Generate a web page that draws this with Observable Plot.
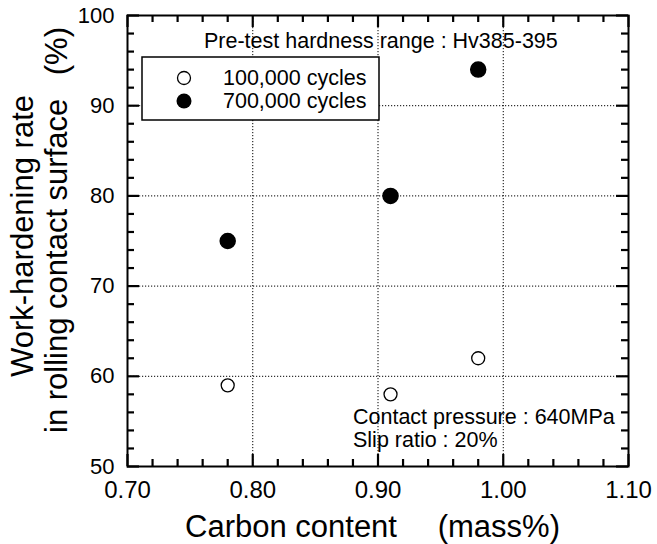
<!DOCTYPE html>
<html>
<head>
<meta charset="utf-8">
<script src="https://cdn.jsdelivr.net/npm/d3@7"></script>
<script src="https://cdn.jsdelivr.net/npm/@observablehq/plot@0.6"></script>
<style>
  html, body { margin: 0; padding: 0; background: white; }
</style>
</head>
<body>
<div id="chart"></div>
<script>
// Data
const carbon = [0.78, 0.91, 0.98];
const rate100k = [59, 58, 62];
const rate700k = [75, 80, 94];
const seriesNames = ["100,000 cycles", "700,000 cycles"];
const xMajor = [0.70, 0.80, 0.90, 1.00, 1.10];
const xTickLabels = ["0.70", "0.80", "0.90", "1.00", "1.10"];
const xMinor = [0.72,0.74,0.76,0.78,0.82,0.84,0.86,0.88,0.92,0.94,0.96,0.98,1.02,1.04,1.06,1.08];
const yMajor = [50, 60, 70, 80, 90, 100];
const yMinor = [52,54,56,58,62,64,66,68,72,74,76,78,82,84,86,88,92,94,96,98];
const xGrid = [0.80, 0.90, 1.00];
const yGrid = [60, 70, 80, 90];
const noteTop = "Pre-test hardness range : Hv385-395";
const noteBottom = ["Contact pressure : 640MPa", "Slip ratio : 20%"];
const xTitle = ["Carbon content", "(mass%)"];
const yTitle = ["Work-hardening rate", "in rolling contact surface", "(%)"];

const open = carbon.map((c, i) => ({c, v: rate100k[i]}));
const filled = carbon.map((c, i) => ({c, v: rate700k[i]}));

const font = "'Liberation Sans', Arial, Helvetica, sans-serif";
const W = 657, H = 544, mL = 127, mR = 29, mT = 15, mB = 78;
const fw = W - mL - mR, fh = H - mT - mB;
const tickStyle = {stroke: "#000", strokeWidth: 2.2};
function xTicks(vals, len) {
  return [
    Plot.ruleX(vals, {...tickStyle, insetTop: fh - len}),
    Plot.ruleX(vals, {...tickStyle, insetBottom: fh - len})
  ];
}
function yTicks(vals, len) {
  return [
    Plot.ruleY(vals, {...tickStyle, insetRight: fw - len}),
    Plot.ruleY(vals, {...tickStyle, insetLeft: fw - len})
  ];
}

const chart = Plot.plot({
  width: W,
  height: H,
  marginLeft: mL,
  marginRight: mR,
  marginTop: mT,
  marginBottom: mB,
  style: {fontFamily: font, background: "white", color: "black"},
  x: {domain: [0.7, 1.1]},
  y: {domain: [50, 100]},
  marks: [
    Plot.gridX(xGrid, {stroke: "black", strokeOpacity: 1, strokeWidth: 1, strokeDasharray: "1.2,1.8"}),
    Plot.gridY(yGrid, {stroke: "black", strokeOpacity: 1, strokeWidth: 1, strokeDasharray: "1.2,1.8"}),
    Plot.frame({stroke: "black", strokeWidth: 2}),
    ...xTicks(xMajor, 12), ...xTicks(xMinor, 7),
    ...yTicks(yMajor, 12), ...yTicks(yMinor, 7),
    // tick labels
    Plot.axisX(xMajor, {anchor: "bottom", tickSize: 0, tickPadding: 14, fontSize: 24, label: null,
      tickFormat: (d) => xTickLabels[xMajor.indexOf(d)]}),
    Plot.axisY(yMajor, {anchor: "left", tickSize: 0, tickPadding: 13, fontSize: 22, label: null}),
    Plot.dot(open, {x: "c", y: "v", r: 6.5, fill: "white", stroke: "black", strokeWidth: 1.3}),
    Plot.dot(filled, {x: "c", y: "v", r: 7.5, fill: "black", stroke: "black"})
  ]
});

const svg = d3.select(chart);
svg.attr("font-family", font);

function txt(x, y, size, s, anchor = "start", transform = null) {
  const t = svg.append("text").attr("font-size", size).attr("fill", "black")
    .attr("text-anchor", anchor).text(s);
  if (transform) t.attr("transform", transform); else t.attr("x", x).attr("y", y);
  return t;
}

// Top note
txt(204, 48, 21.5, noteTop);

// Legend
const lg = svg.append("g");
lg.append("rect").attr("x", 142).attr("y", 57).attr("width", 237).attr("height", 63)
  .attr("fill", "white").attr("stroke", "black").attr("stroke-width", 1.5);
lg.append("circle").attr("cx", 184).attr("cy", 78).attr("r", 6.5).attr("fill", "white").attr("stroke", "black").attr("stroke-width", 1.3);
lg.append("circle").attr("cx", 184).attr("cy", 101).attr("r", 7.5).attr("fill", "black");
txt(223, 85, 21.5, seriesNames[0]);
txt(223, 108, 21.5, seriesNames[1]);

// Bottom notes
txt(353, 424, 21.5, noteBottom[0]);
txt(353, 447, 21.5, noteBottom[1]);

// X title
txt(185, 537, 31, xTitle[0]);
txt(560, 537, 31, xTitle[1], "end");

// Y title (rotated)
txt(0, 0, 31, yTitle[0], "start", "translate(33,377) rotate(-90)");
txt(0, 0, 31, yTitle[1], "start", "translate(67,433) rotate(-90)");
txt(0, 0, 31, yTitle[2], "end", "translate(67,27) rotate(-90)");

document.getElementById("chart").appendChild(chart);
</script>
</body>
</html>
